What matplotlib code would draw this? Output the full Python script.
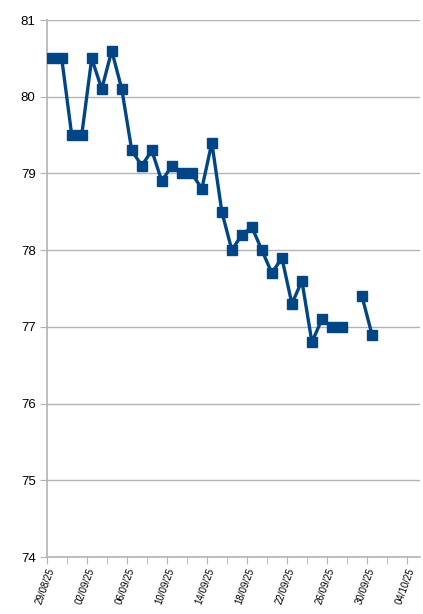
import numpy as np
import matplotlib
matplotlib.use("Agg")
from matplotlib import pyplot as plt
import matplotlib.dates as mdates
from datetime import datetime, timedelta

plt.rcParams['font.family'] = ['Liberation Sans', 'DejaVu Sans']

## data: one reading per day, 28/09 missing
start = datetime(2025, 8, 29, 12)
values = [80.5, 80.5, 79.5, 79.5, 80.5, 80.1, 80.6, 80.1, 79.3, 79.1,
          79.3, 78.9, 79.1, 79.0, 79.0, 78.8, 79.4, 78.5, 78.0, 78.2,
          78.3, 78.0, 77.7, 77.9, 77.3, 77.6, 76.8, 77.1, 77.0, 77.0,
          np.nan, 77.4, 76.9]
days = [start + timedelta(days=i) for i in range(len(values))]

yticks = [74, 75, 76, 77, 78, 79, 80, 81]
x_first = datetime(2025, 8, 29)
x_last = x_first + timedelta(days=37.3)

grey = '#b3b3b3'
blue = '#004586'

fig = plt.figure(figsize=(4.23, 6.14), dpi=100)
ax = fig.add_axes([46.7/423, 1-557/614, (420-46.7)/423, (557-20)/614])

ax.plot(days, values, color=blue, lw=2.4, marker='s', ms=7.5,
        mec=blue, mfc=blue, zorder=3)

ax.set_ylim(74, 81)
ax.set_yticks(yticks)
ax.set_xlim(x_first, x_last)
ax.set_xticks([x_first + timedelta(days=4*k) for k in range(10)])
ax.set_xticks([x_first + timedelta(days=2*k) for k in range(19)], minor=True)
ax.xaxis.set_major_formatter(mdates.DateFormatter('%d/%m/%y'))

ax.grid(axis='y', color=grey, lw=1)
ax.set_axisbelow(True)
for s in ['top', 'right']:
    ax.spines[s].set_visible(False)
for s in ['left', 'bottom']:
    ax.spines[s].set_color(grey)
    ax.spines[s].set_linewidth(1.2)

ax.tick_params(axis='y', which='both', color=grey, length=5, labelsize=9.5, pad=3)
ax.tick_params(axis='x', which='both', color=grey, length=5, labelsize=7, pad=2)
for lab in ax.get_xticklabels():
    lab.set_rotation(70)
    lab.set_ha('right')
    lab.set_rotation_mode('anchor')

fig.savefig('out.png', dpi=100)
